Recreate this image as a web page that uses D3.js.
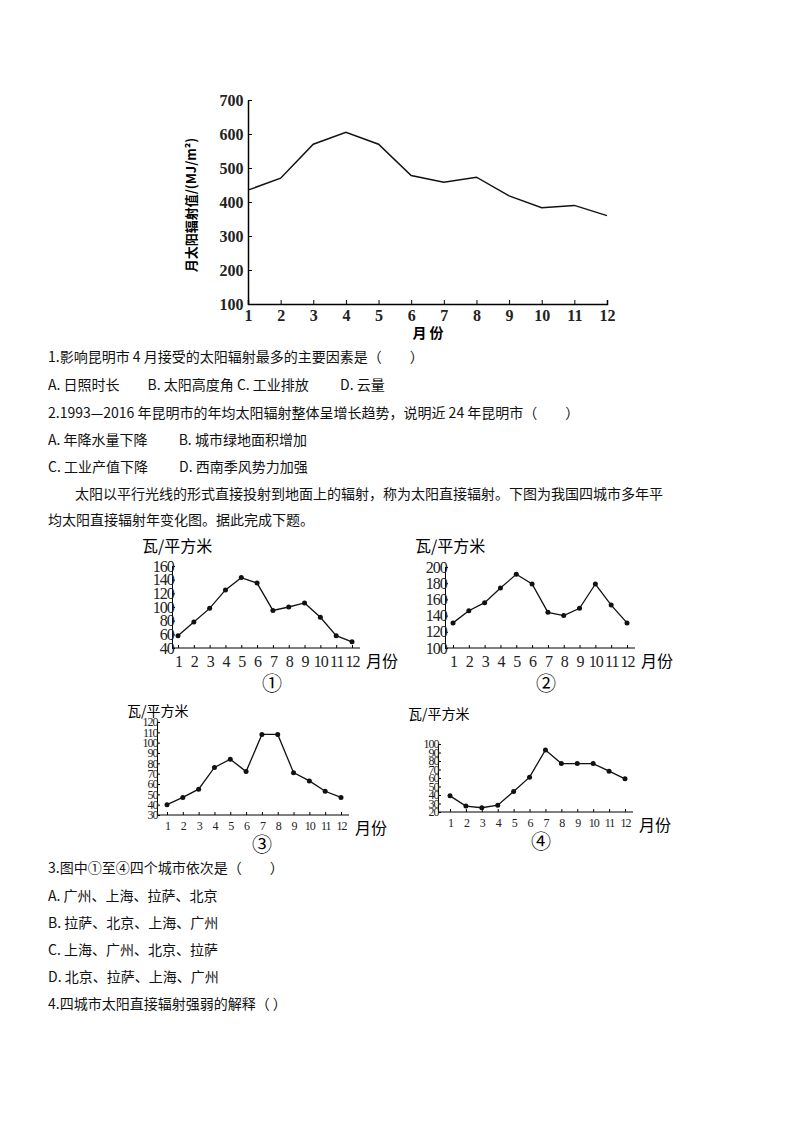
<!DOCTYPE html>
<html><head><meta charset="utf-8">
<script src="https://cdn.jsdelivr.net/npm/d3@7"></script>
<style>body{margin:0;background:#fff}svg{display:block}</style>
</head><body>
<script>
var months = [1,2,3,4,5,6,7,8,9,10,11,12];
var kunming = [435,470,570,605,570,478,458,473,418,383,390,360];
var city1 = [58,78,98,125,143,135,95,100,106,85,58,49];
var city2 = [131,146,156,174,191,179,144,140,149,179,153,131];
var city3 = [40,47,55,76,84,72,108,108,71,63,53,47];
var city4 = [39,27,25,28,44,61,93,77,77,77,68,59];
var kmTicks = [100,200,300,400,500,600,700];
var t1 = [40,60,80,100,120,140,160];
var t2 = [100,120,140,160,180,200];
var t3 = [30,40,50,60,70,80,90,100,110,120];
var t4 = [20,30,40,50,60,70,80,90,100];

var svg = d3.select("body").append("svg").attr("width",800).attr("height",1132);
var cjk = "'Noto Sans CJK SC', sans-serif";
var serif = "'Liberation Serif', 'DejaVu Serif', serif";

// top chart
var x0 = d3.scaleLinear().domain([1,12]).range([248,607]);
var y0 = d3.scaleLinear().domain([100,700]).range([304,100]);
var g0 = svg.append("g");
g0.append("g").attr("transform","translate(0,304)")
  .call(d3.axisBottom(x0).tickValues(months).tickSize(-4).tickFormat(d3.format("d")))
  .call(function(a){a.select(".domain").attr("stroke-width",1.5);a.selectAll("text").attr("dy","0.9em");});
g0.append("g").attr("transform","translate(248,0)")
  .call(d3.axisLeft(y0).tickValues(kmTicks).tickSize(-4).tickSizeOuter(0))
  .call(function(a){a.select(".domain").attr("stroke-width",1.5);a.selectAll("text").attr("dx","-0.1em");});
g0.selectAll("text").attr("font-family",serif).attr("font-weight","bold").attr("font-size",16).attr("fill","#222");
g0.append("path").datum(kunming).attr("fill","none").attr("stroke","#111").attr("stroke-width",1.5)
  .attr("d",d3.line().x(function(d,i){return x0(months[i]);}).y(function(d){return y0(d);}));
g0.append("text").attr("transform","translate(196,205) rotate(-90)").attr("text-anchor","middle")
  .attr("font-family",cjk).attr("font-size",13).attr("font-weight","bold").text("月太阳辐射值/(MJ/m²)");
g0.append("text").attr("x",428).attr("y",338).attr("text-anchor","middle")
  .attr("font-family",cjk).attr("font-size",14).attr("font-weight","bold").text("月 份");

// small charts
function small(data, ticks, ax, y1px, y2px, x1, x12, label, lx, ly, fs, ty) {
  var x = d3.scaleLinear().domain([1,12]).range([x1,x12]);
  var y = d3.scaleLinear().domain([ticks[0],ticks[ticks.length-1]]).range([y2px,y1px]);
  var g = svg.append("g");
  g.append("g").attr("transform","translate(0,"+y2px+")")
    .call(d3.axisBottom(x).tickValues(months).tickSize(-3).tickSizeOuter(0).tickFormat(d3.format("d")))
    .call(function(a){a.select(".domain").attr("d","M"+ax+",0H"+(x12+8));a.selectAll("text").attr("dy","1.0em");});
  g.append("g").attr("transform","translate("+ax+",0)")
    .call(d3.axisLeft(y).tickValues(ticks).tickSize(-3).tickSizeOuter(0))
    .call(function(a){a.selectAll("text").attr("dx","0.3em");});
  g.selectAll(".tick text").attr("font-family",serif).attr("fill","#222").attr("letter-spacing","-1");
  g.selectAll(".tick text").attr("font-size",16);
  g.selectAll("g:last-child .tick text").attr("font-size",fs);
  var line = d3.line().x(function(d,i){return x(months[i]);}).y(function(d){return y(d);});
  g.append("path").datum(data).attr("fill","none").attr("stroke","#111").attr("stroke-width",1.3).attr("d",line);
  g.selectAll("circle.p").data(data).enter().append("circle")
    .attr("cx",function(d,i){return x(months[i]);}).attr("cy",function(d){return y(d);}).attr("r",2.5).attr("fill","#111");
  g.append("text").attr("x",ax-30).attr("y",ty).attr("font-family",cjk).attr("font-size",fs<16?14:16).text("瓦/平方米");
  g.append("text").attr("x",x12+14).attr("y",y2px+19).attr("font-family",cjk).attr("font-size",16).text("月份");
  g.append("text").attr("x",lx).attr("y",ly).attr("text-anchor","middle").attr("font-family",cjk).attr("font-size",20).text(label);
}
small(city1, t1, 172, 566, 648, 178, 352, "①", 272, 691, 16, 552);
small(city2, t2, 445, 567, 648, 453, 627, "②", 546, 691, 16, 552);
small(city3, t3, 157, 722, 815, 167, 341, "③", 262, 852, 12, 716);
small(city4, t4, 438, 744, 812, 450, 625, "④", 541, 849, 12, 719);

var lines = [
  [48,362,"1.影响昆明市 4 月接受的太阳辐射最多的主要因素是（　　）"],
  [48,390,"A.  日照时长　　B.  太阳高度角 C.  工业排放　　 D.  云量"],
  [48,418,"2.1993—2016 年昆明市的年均太阳辐射整体呈增长趋势，说明近 24 年昆明市（　　）"],
  [48,445,"A.  年降水量下降　　 B.  城市绿地面积增加"],
  [48,472,"C.  工业产值下降　　 D.  西南季风势力加强"],
  [75,499,"太阳以平行光线的形式直接投射到地面上的辐射，称为太阳直接辐射。下图为我国四城市多年平"],
  [48,525,"均太阳直接辐射年变化图。据此完成下题。"],
  [48,873,"3.图中①至④四个城市依次是（　　）"],
  [48,901,"A. 广州、上海、拉萨、北京"],
  [48,928,"B. 拉萨、北京、上海、广州"],
  [48,955,"C. 上海、广州、北京、拉萨"],
  [48,982,"D. 北京、拉萨、上海、广州"],
  [48,1009,"4.四城市太阳直接辐射强弱的解释（ ）"]
];
svg.selectAll("text.q").data(lines).enter().append("text").attr("class","q")
  .attr("x",function(d){return d[0];}).attr("y",function(d){return d[1];})
  .attr("font-family",cjk).attr("font-size",14).attr("fill","#111").text(function(d){return d[2];});
</script>
</body></html>
